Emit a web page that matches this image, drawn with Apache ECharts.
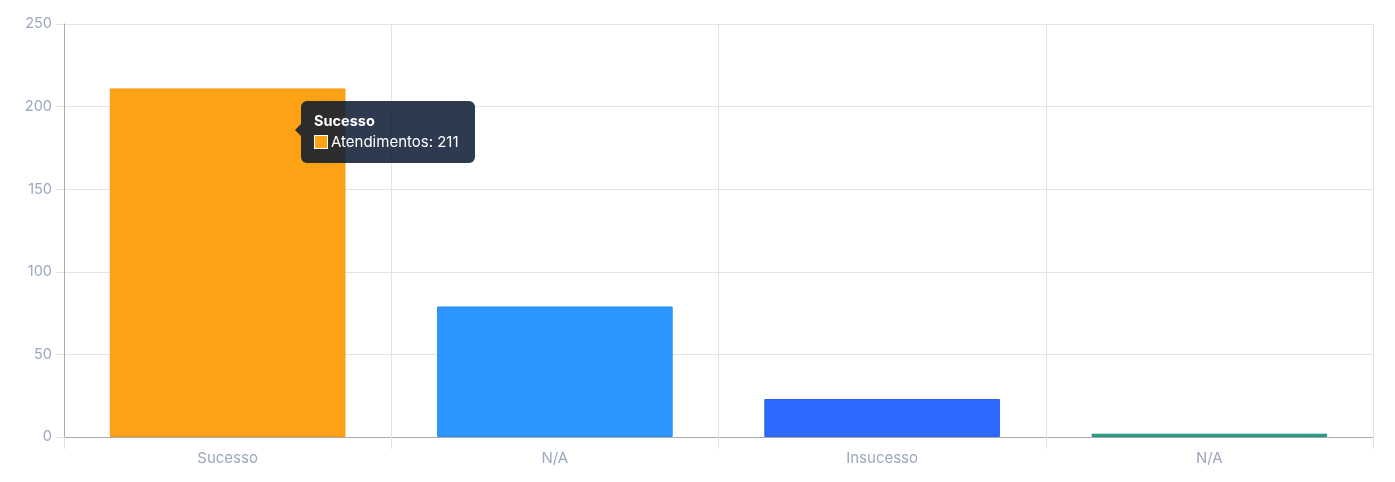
<!DOCTYPE html>
<html>
<head>
<meta charset="utf-8">
<script src="https://cdn.jsdelivr.net/npm/echarts@6/dist/echarts.min.js"></script>
<style>
html,body{margin:0;padding:0;background:#fff;}
#c{width:1395px;height:482px;}
</style>
</head>
<body>
<div id="c"></div>
<script>
const categories = ['Sucesso', 'N/A', 'Insucesso', 'N/A'];
const values = [211, 79, 23, 2];
const barColors = ['#FDA115', '#2D95FF', '#2D68FF', '#2B9E88'];
const borderColors = ['#F39A10', '#2A8EF2', '#2A62F2', '#27927E'];
const seriesName = 'Atendimentos';
const yTicks = [0, 50, 100, 150, 200, 250];

const font = 'Inter, "Open Sans", sans-serif';
const cssFont = "Inter, 'Open Sans', sans-serif";
const tipBg = 'rgba(8,24,49,0.85)';
const chart = echarts.init(document.getElementById('c'), null, {renderer: 'canvas'});
chart.setOption({
  animation: false,
  grid: {left: 64, right: 22, top: 24, bottom: 45},
  tooltip: {
    trigger: 'item',
    alwaysShowContent: true,
    position: [301, 101],
    backgroundColor: tipBg,
    borderWidth: 0,
    padding: [10, 16, 10, 13],
    extraCssText: 'border-radius:6px;box-shadow:none;overflow:visible;',
    formatter: function (p) {
      return '<div style="position:absolute;left:-6px;top:23px;width:0;height:0;border-top:6px solid transparent;border-bottom:6px solid transparent;border-right:6px solid ' + tipBg + ';"></div>' +
        '<div style="font-family:' + cssFont + ';font-weight:700;font-size:14.5px;color:#fff;line-height:19px;">' + p.name + '</div>' +
        '<div style="font-family:' + cssFont + ';font-size:15px;color:#fff;line-height:23px;">' +
        '<span style="display:inline-block;width:12px;height:12px;background:' + barColors[p.dataIndex] + ';border:1.5px solid #fff;vertical-align:-2px;margin-right:3px;"></span>' +
        p.seriesName + ': ' + p.value + '</div>';
    }
  },
  xAxis: {
    type: 'category',
    data: categories,
    boundaryGap: true,
    axisLine: {show: true, lineStyle: {color: '#aaaaaa', width: 1}},
    axisTick: {show: true, length: 12, lineStyle: {color: '#e3e3e3'}},
    splitLine: {show: true, lineStyle: {color: '#e3e3e3'}},
    axisLabel: {color: '#9AA8BD', fontSize: 15, fontFamily: font, margin: 14}
  },
  yAxis: {
    type: 'value',
    min: yTicks[0],
    max: yTicks[yTicks.length - 1],
    interval: yTicks[1] - yTicks[0],
    axisLine: {show: true, lineStyle: {color: '#aaaaaa', width: 1}},
    axisTick: {show: true, length: 8, lineStyle: {color: '#e3e3e3'}},
    splitLine: {show: true, lineStyle: {color: '#e3e3e3'}},
    axisLabel: {color: '#9AA8BD', fontSize: 14.5, fontFamily: font, margin: 12}
  },
  series: [{
    type: 'bar',
    name: seriesName,
    barCategoryGap: '28%',
    data: values.map((v, i) => ({
      value: v,
      itemStyle: {color: barColors[i], borderColor: borderColors[i], borderWidth: 1}
    }))
  }]
});
setTimeout(function () {
  chart.dispatchAction({type: 'showTip', seriesIndex: 0, dataIndex: 0});
}, 50);
</script>
</body>
</html>
